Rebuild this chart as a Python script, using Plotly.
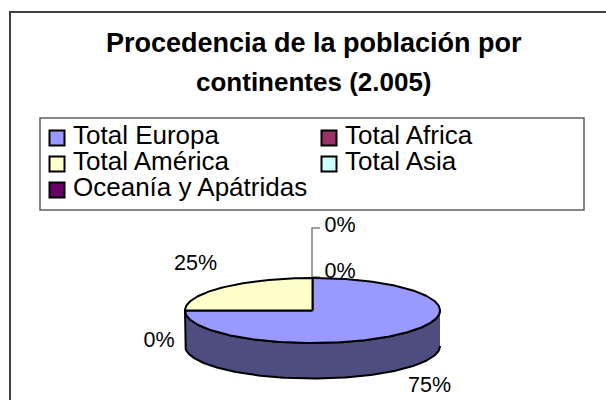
import math
import plotly.graph_objects as go

title_lines = ["Procedencia de la población por", "continentes (2.005)"]
categories = ["Total Europa", "Total Africa", "Total América", "Total Asia", "Oceanía y Apátridas"]
values = [75, 0, 25, 0, 0]
colors = ["#9999FF", "#993366", "#FFFFCC", "#CCFFFF", "#660066"]
wall_colors = ["#4D4D80", "#4D1A33", "#808066", "#668080", "#330033"]
label_texts = ["75%", "0%", "25%", "0%", "0%"]

W, H = 606, 400
CX, CY, RX, RY, DEPTH = 312.5, 310.5, 127.5, 32.5, 35.5
FONT = "Liberation Sans"
INK = "#000000"

label_pos = [(429.5, 387), (159, 342), (195.5, 265), (340, 273), (340, 227)]
legend_pos = [(57, 138), (329, 138), (57, 164), (329, 164), (57, 190)]


def pt(deg, dy=0.0):
    a = math.radians(deg)
    return CX + RX * math.sin(a), CY - RY * math.cos(a) + dy


def arc(a0, a1, dy=0.0):
    n = max(2, int(abs(a1 - a0)) + 1)
    return [pt(a0 + (a1 - a0) * i / (n - 1), dy) for i in range(n)]


total = sum(values)
spans, acc = [], 0.0
for v in values:
    spans.append((acc, acc + 360.0 * v / total))
    acc += 360.0 * v / total

fig = go.Figure()


def poly(points, fill):
    fig.add_trace(go.Scatter(
        x=[p[0] for p in points], y=[p[1] for p in points], mode="lines",
        fill="toself", fillcolor=fill, line=dict(color="#000000", width=2),
        hoverinfo="skip", showlegend=False))


# labels first: the pie hides whatever falls under it
fig.add_trace(go.Scatter(
    x=[p[0] for p in label_pos], y=[p[1] for p in label_pos], mode="text",
    text=label_texts, textposition="middle center",
    textfont=dict(family=FONT, size=21.5, color=INK), hoverinfo="skip", showlegend=False))

# leader lines of the two small slices
fig.add_trace(go.Scatter(
    x=[320, 312, 312, 320], y=[228, 228, 277, 277], mode="lines",
    line=dict(color="#808080", width=1.5), hoverinfo="skip", showlegend=False))

# side wall on the front half only
for (a0, a1), wc in zip(spans, wall_colors):
    lo, hi = max(a0, 90.0), min(a1, 270.0)
    if hi > lo:
        poly(arc(lo, hi) + arc(hi, lo, DEPTH), wc)

# top faces
for (a0, a1), c in zip(spans, colors):
    if a1 > a0:
        poly([(CX, CY)] + arc(a0, a1) + [(CX, CY)], c)

# legend swatches
fig.add_trace(go.Scatter(
    x=[p[0] for p in legend_pos], y=[p[1] for p in legend_pos], mode="markers",
    marker=dict(symbol="square", size=15, color=colors, line=dict(color="#000000", width=2)),
    hoverinfo="skip", showlegend=False))

annotations = [
    dict(x=314, y=yy, text=t, showarrow=False, xref="x", yref="y", xanchor="center", yanchor="middle",
         font=dict(family=FONT, size=sz, color=INK))
    for t, yy, sz in zip([f"<b>{s}</b>" for s in title_lines], [43, 82], [27, 26])
]
annotations += [
    dict(x=p[0] + 15, y=p[1] - 3, text=c, showarrow=False, xref="x", yref="y", xanchor="left", yanchor="middle",
         font=dict(family=FONT, size=26, color=INK), borderpad=0)
    for c, p in zip(categories, legend_pos)
]

shapes = [
    dict(type="rect", xref="x", yref="y", x0=10, y0=12, x1=640, y1=440,
         line=dict(color="#404040", width=2), fillcolor="rgba(0,0,0,0)"),
    dict(type="rect", xref="x", yref="y", x0=40, y0=118, x1=584, y1=210,
         line=dict(color="#606060", width=1.5), fillcolor="rgba(0,0,0,0)", layer="below"),
]

fig.update_layout(
    width=W, height=H, margin=dict(l=0, r=0, t=0, b=0), autosize=False,
    paper_bgcolor="#FFFFFF", plot_bgcolor="#FFFFFF", showlegend=False,
    xaxis=dict(range=[0, W], visible=False, fixedrange=True),
    yaxis=dict(range=[H, 0], visible=False, fixedrange=True),
    annotations=annotations, shapes=shapes,
)

fig.write_html("out.html", config={"displayModeBar": False},
               post_script="document.body.style.margin='0';document.body.style.overflow='hidden';")
